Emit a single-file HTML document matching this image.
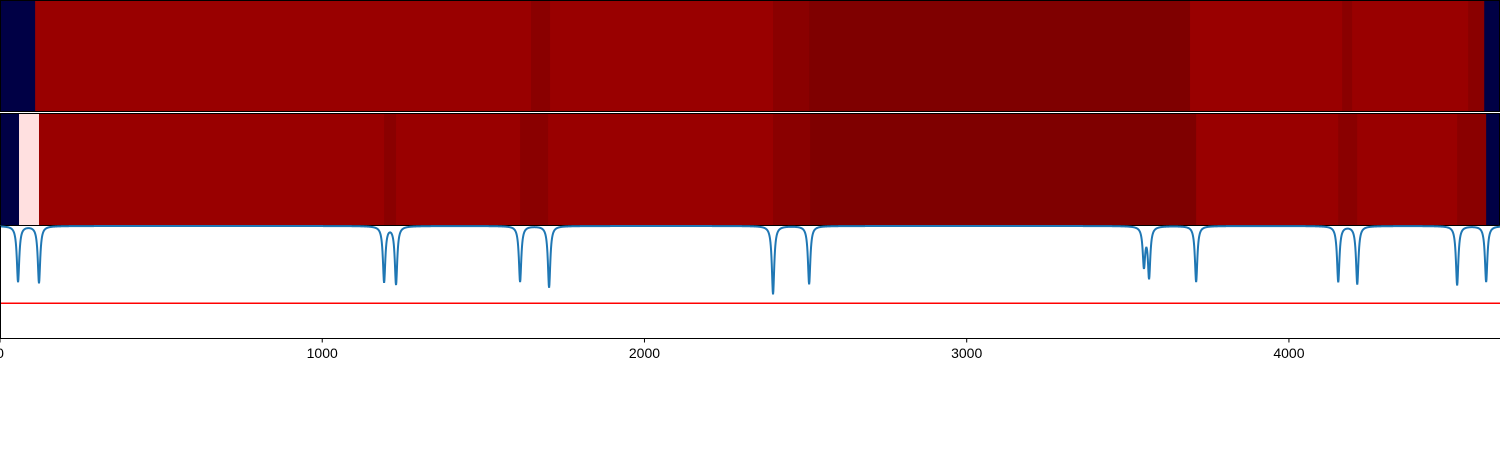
<!DOCTYPE html>
<html><head><meta charset="utf-8"><style>
body{margin:0;background:#fff;}
svg{display:block;font-family:"Liberation Sans",sans-serif;}
</style></head><body>
<svg id="chart" width="1500" height="450"></svg>
<script>
const xMax = 4655;
const tickValues = [0, 1000, 2000, 3000, 4000];
const row1Starts = [0, 109, 1648, 1707, 2399, 2511, 3693, 4165, 4196, 4556, 4606];
const row1Levels = ["navy","red","dark","red","dark","darker","red","dark","red","dark","navy"];
const row2Starts = [0, 59, 121, 1192, 1229, 1614, 1701, 2399, 2514, 3712, 4153, 4212, 4522, 4612];
const row2Levels = ["navy","pink","red","dark","red","dark","red","dark","darker","red","dark","red","dark","navy"];
const dipCenters = [56, 121, 1192, 1229, 1614, 1704, 2399, 2511, 3550, 3566, 3712, 4153, 4212, 4522, 4612];
const dipDepths = [0.50, 0.51, 0.50, 0.52, 0.50, 0.55, 0.61, 0.52, 0.35, 0.45, 0.50, 0.50, 0.52, 0.53, 0.50];
const threshold = 0.31;

const NS = "http://www.w3.org/2000/svg";
const svg = document.getElementById("chart");
const W = 1500;
const xs = v => v / xMax * W;
const ys = v => 338 - v * 112;
const colors = {navy:"#000045", red:"#990000", dark:"#8a0000", darker:"#7f0000", pink:"#ffe0e0"};
function mk(t, a){const e=document.createElementNS(NS,t);for(const k in a)e.setAttribute(k,a[k]);svg.appendChild(e);return e;}

function drawRow(starts, levels, y0, h, name){
  for(let i=0;i<starts.length;i++){
    const x0 = xs(starts[i]);
    const x1 = i+1<starts.length ? xs(starts[i+1]) : W;
    const r = mk("rect",{x:x0,y:y0,width:x1-x0+0.5,height:h,fill:colors[levels[i]]});
    
    
  }
  const b = mk("rect",{x:0.5,y:y0+0.5,width:W-1,height:h-1,fill:"none",stroke:"#000","stroke-width":1});
  
  
}
drawRow(row1Starts,row1Levels,0,112,"heatmap-row-1");
drawRow(row2Starts,row2Levels,113,113,"heatmap-row-2");

const g = 4.5;
let d = "";
for(let x=0;x<=xMax;x+=1){
  let v = 1;
  for(let i=0;i<dipCenters.length;i++){const dx=x-dipCenters[i];v -= dipDepths[i]*g*g/(dx*dx+g*g);}
  d += (x===0?"M":"L")+xs(x).toFixed(2)+","+ys(v).toFixed(2);
}
const line = mk("path",{d:d,fill:"none",stroke:"#1f77b4","stroke-width":2});


const th = mk("line",{x1:0,x2:W,y1:ys(threshold),y2:ys(threshold),stroke:"#ff0000","stroke-width":1.5});



const la = mk("line",{x1:0.5,x2:0.5,y1:226,y2:338,stroke:"#000","stroke-width":1});


const ba = mk("line",{x1:0,x2:W,y1:338.5,y2:338.5,stroke:"#000","stroke-width":1});


tickValues.forEach(t=>{
  const x = xs(t);
  const tk = mk("line",{x1:x,x2:x,y1:338,y2:342.5,stroke:"#000","stroke-width":1});
  
  
  const tx = mk("text",{x:x,y:358,"text-anchor":"middle","font-size":14,fill:"#000"});
  tx.textContent = t;
  
  
});
</script>
</body></html>
